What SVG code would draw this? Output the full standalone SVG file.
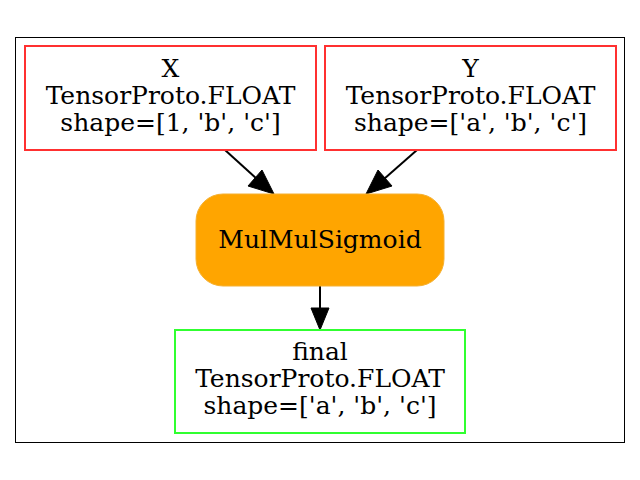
<svg xmlns="http://www.w3.org/2000/svg" width="640" height="480" viewBox="0 0 640 480">
<style>
text{font-family:"DejaVu Serif",serif;font-size:25px;text-anchor:middle;fill:#000}
.io{fill:#fff;stroke-width:2}
.edge{stroke:#000;stroke-width:2;fill:none}
</style>
<rect x="0" y="0" width="640" height="480" fill="#fff"/>
<rect x="15.5" y="37.5" width="609" height="405" fill="#fff" stroke="#000" stroke-width="1"/>
<g id="connectors">
<line class="edge" x1="225" y1="150" x2="257" y2="179"/>
<path d="M248,186 L274,194 L262,170 z" fill="#000" stroke="#000"/>
<line class="edge" x1="417" y1="150" x2="384" y2="179"/>
<path d="M378,170 L366,194 L392,186 z" fill="#000" stroke="#000"/>
<line class="edge" x1="320" y1="286" x2="320" y2="310"/>
<path d="M311,308 L320,330 L329,308 z" fill="#000" stroke="#000"/>
</g>
<g id="X">
<rect class="io" x="25" y="46" width="291" height="104" stroke="#ff3030"/>
<text x="170.5" y="77">X</text>
<text x="170.5" y="104">TensorProto.FLOAT</text>
<text x="170.5" y="131">shape=[1, 'b', 'c']</text>
</g>
<g id="Y">
<rect class="io" x="325" y="46" width="291" height="104" stroke="#ff3030"/>
<text x="470.5" y="77">Y</text>
<text x="470.5" y="104">TensorProto.FLOAT</text>
<text x="470.5" y="131">shape=['a', 'b', 'c']</text>
</g>
<g id="MulMulSigmoid">
<rect x="196" y="194" width="248" height="92" rx="27" fill="#ffa500" stroke="#f5b030" stroke-width="1"/>
<text x="320" y="248">MulMulSigmoid</text>
</g>
<g id="final">
<rect class="io" x="175" y="330" width="290" height="103" stroke="#30ff30"/>
<text x="320" y="360">final</text>
<text x="320" y="387">TensorProto.FLOAT</text>
<text x="320" y="414">shape=['a', 'b', 'c']</text>
</g>
</svg>
